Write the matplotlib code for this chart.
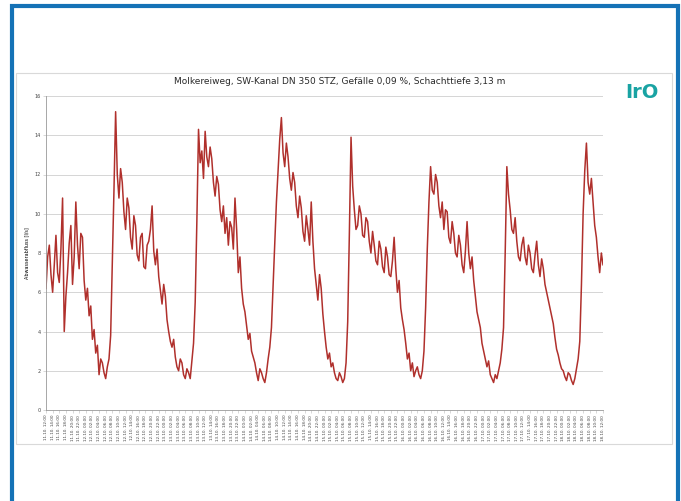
import matplotlib.pyplot as plt
from matplotlib.patches import Rectangle
import numpy as np
import pandas as pd

# half-hourly flow values, starting 11.10. 12:00
flow = [6.2, 7.8, 8.4, 6.9, 6.0, 7.4, 8.9, 7.0, 6.5, 8.2, 10.8, 4.0,
        5.8, 7.0, 8.5, 9.4, 6.4, 7.8, 10.6, 8.4, 7.2, 9.0, 8.8, 6.6,
        5.6, 6.2, 4.8, 5.3, 3.6, 4.1, 2.9, 3.3, 1.8, 2.6, 2.4, 1.9,
        1.6, 2.2, 2.6, 3.8, 7.5, 11.2, 15.2, 12.0, 10.8, 12.3, 11.6, 10.1,
        9.2, 10.8, 10.3, 8.8, 8.2, 9.9, 9.4, 7.9, 7.6, 8.8, 9.0, 7.3,
        7.2, 8.4, 8.6, 9.2, 10.4, 8.1, 7.4, 8.2, 6.8, 6.1, 5.4, 6.4,
        5.8, 4.6, 4.0, 3.5, 3.2, 3.6, 2.7, 2.2, 2.0, 2.6, 2.4, 1.8,
        1.6, 2.1, 1.9, 1.6, 2.5, 3.4, 5.5, 9.6, 14.3, 12.6, 13.2, 11.8,
        14.2, 12.9, 12.4, 13.4, 12.8, 11.6, 10.9, 11.9, 11.5, 10.2, 9.6, 10.4,
        9.0, 9.8, 8.4, 9.6, 9.3, 8.2, 10.8, 9.2, 7.0, 7.8, 6.2, 5.4,
        5.0, 4.3, 3.6, 3.9, 3.0, 2.7, 2.4, 1.9, 1.5, 2.1, 1.9, 1.6,
        1.4, 1.9, 2.6, 3.2, 4.2, 6.4, 8.5, 10.6, 12.2, 13.8, 14.9, 13.1,
        12.4, 13.6, 12.9, 11.8, 11.2, 12.1, 11.6, 10.4, 9.8, 10.9, 10.3, 9.1,
        8.6, 9.9, 9.2, 8.4, 10.6, 8.6, 7.2, 6.4, 5.6, 6.9, 6.2, 4.9,
        4.0, 3.2, 2.6, 2.9, 2.2, 2.4, 1.9, 1.6, 1.5, 1.9, 1.7, 1.4,
        1.6, 2.4, 4.5, 9.0, 13.9, 11.4, 10.2, 9.2, 9.4, 10.4, 10.0, 8.9,
        8.8, 9.8, 9.6, 8.6, 8.0, 9.1, 8.4, 7.6, 7.4, 8.6, 8.2, 7.3,
        7.0, 8.3, 7.8, 6.9, 6.8, 7.6, 8.8, 7.2, 6.0, 6.6, 5.2, 4.6,
        4.1, 3.4, 2.6, 2.9, 2.0, 2.4, 1.7, 2.0, 2.2, 1.8, 1.6, 2.0,
        3.0, 5.2, 8.2, 10.6, 12.4, 11.2, 11.0, 12.0, 11.6, 10.4, 9.8, 10.6,
        9.2, 10.2, 10.1, 8.8, 8.5, 9.6, 9.0, 8.0, 7.8, 8.9, 8.4, 7.4,
        7.0, 8.1, 9.6, 8.0, 7.2, 7.8, 6.6, 5.8, 5.0, 4.6, 4.2, 3.4,
        3.0, 2.6, 2.2, 2.5, 1.8, 1.6, 1.4, 1.8, 1.6, 2.0, 2.4, 3.1,
        4.2, 8.0, 12.4, 11.0, 10.2, 9.2, 9.0, 9.8, 8.6, 7.8, 7.6, 8.4,
        8.8, 7.8, 7.4, 8.4, 8.0, 7.2, 7.0, 7.9, 8.6, 7.4, 6.8, 7.7,
        7.2, 6.4, 6.0, 5.6, 5.2, 4.8, 4.4, 3.7, 3.1, 2.8, 2.4, 2.1,
        2.0, 1.7, 1.5, 1.9, 1.8, 1.5, 1.3, 1.6, 2.1, 2.6, 3.5, 6.4,
        10.0, 12.2, 13.6, 11.6, 11.0, 11.8, 10.6, 9.4, 8.8, 7.8, 7.0, 8.0,
        7.4]

times = pd.date_range("2011-10-11 12:00", periods=len(flow), freq="30min")
tick_labels = [t.strftime("%d.%m. %H:%M") for t in times[::4]]
y_ticks = [0, 2, 4, 6, 8, 10, 12, 14, 16]

title = "Molkereiweg, SW-Kanal DN 350 STZ, Gefälle 0,09 %, Schachttiefe 3,13 m"
ylabel = "Abwasserabfluss [l/s]"

fig = plt.figure(figsize=(6.81, 5.01), dpi=100)
fig.patch.set_facecolor("white")

# blue frame and grey chart box
fig.patches.append(Rectangle((12/681, -0.05), 666/681, 1 - 6/501 + 0.05,
                             transform=fig.transFigure, fill=False,
                             edgecolor="#1572b6", linewidth=3))
fig.patches.append(Rectangle((16/681, 1 - 444/501), 656/681, (444 - 73)/501,
                             transform=fig.transFigure, fill=False,
                             edgecolor="#d9d9d9", linewidth=0.8))

ax = fig.add_axes([46/681, 1 - 410/501, 557/681, 314/501])
x = np.arange(len(flow))
ax.plot(x, flow, color="#b0302c", linewidth=1.1)

ax.set_ylim(0, 16)
ax.set_xlim(0, len(flow) - 1)
ax.set_yticks(y_ticks)
ax.set_yticklabels([str(v) for v in y_ticks], fontsize=3.5, color="#444444")
ax.set_xticks(x[::4])
ax.set_xticklabels(tick_labels, rotation=90, fontsize=3, color="#444444")
ax.tick_params(axis="both", length=2, width=0.4, color="#bbbbbb", pad=1.5)
ax.grid(axis="y", color="#cfcfcf", linewidth=0.6)
ax.set_axisbelow(True)
for s in ["top", "right"]:
    ax.spines[s].set_visible(False)
for s in ["left", "bottom"]:
    ax.spines[s].set_color("#999999")
    ax.spines[s].set_linewidth(0.6)
ax.set_ylabel(ylabel, fontsize=3.5, labelpad=4)

fig.text(340/681, 1 - 82/501, title, ha="center", va="center", fontsize=6.5,
         color="#2a2a2a")
fig.text(642/681, 1 - 92/501, "IrO", ha="center", va="center", fontsize=14,
         fontweight="bold", color="#19a3a3")

fig.savefig("out.png", dpi=100, facecolor="white")
